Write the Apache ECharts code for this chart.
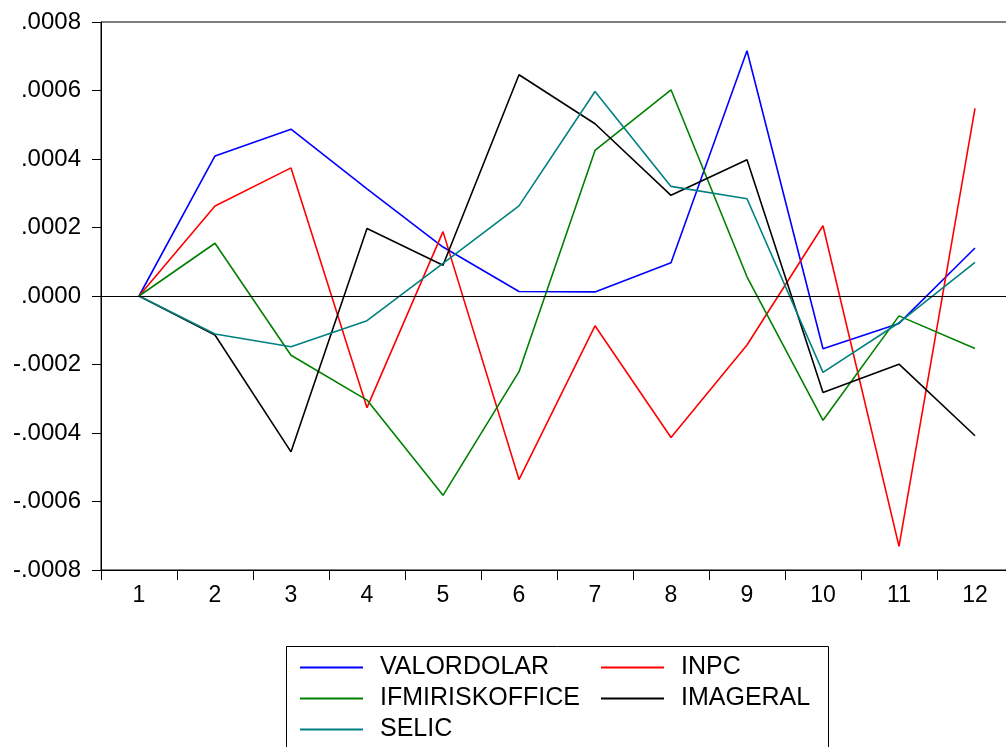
<!DOCTYPE html>
<html>
<head>
<meta charset="utf-8">
<script src="https://cdn.jsdelivr.net/npm/echarts@6/dist/echarts.min.js"></script>
<style>
  html, body { margin: 0; padding: 0; background: #fff; overflow: hidden; width: 1006px; height: 747px; }
  /* the plot frame runs a little past the right edge of the window */
  #chart { width: 1024px; height: 747px; }
</style>
</head>
<body>
<div id="chart"></div>
<script>
// Periods on the horizontal axis
const categories = ['1', '2', '3', '4', '5', '6', '7', '8', '9', '10', '11', '12'];

// Responses of each variable per period
const valordolar     = [0, 0.000409, 0.000487, 0.000313, 0.000143, 0.000013, 0.000012, 0.000097, 0.000716, -0.000154, -0.000080, 0.000140];
const inpc           = [0, 0.000263, 0.000374, -0.000326, 0.000188, -0.000536, -0.000087, -0.000413, -0.000143, 0.000205, -0.000731, 0.000548];
const ifmiriskoffice = [0, 0.000154, -0.000173, -0.000304, -0.000582, -0.000221, 0.000425, 0.000602, 0.000056, -0.000363, -0.000058, -0.000153];
const imageral       = [0, -0.000114, -0.000455, 0.000197, 0.000090, 0.000646, 0.000503, 0.000294, 0.000398, -0.000282, -0.000199, -0.000408];
const selic          = [0, -0.000111, -0.000148, -0.000072, 0.000095, 0.000263, 0.000597, 0.000320, 0.000284, -0.000223, -0.000078, 0.000098];

// Value axis ticks and their printed labels
const yTicks      = [-0.0008, -0.0006, -0.0004, -0.0002, 0, 0.0002, 0.0004, 0.0006, 0.0008];
const yTickLabels = ['-.0008', '-.0006', '-.0004', '-.0002', '.0000', '.0002', '.0004', '.0006', '.0008'];

const seriesDefs = [
  { name: 'VALORDOLAR',     data: valordolar,     color: '#0000ff' },
  { name: 'INPC',           data: inpc,           color: '#ff0000' },
  { name: 'IFMIRISKOFFICE', data: ifmiriskoffice, color: '#008000' },
  { name: 'IMAGERAL',       data: imageral,       color: '#000000' },
  { name: 'SELIC',          data: selic,          color: '#008080' }
];

const FONT = '"Liberation Sans", Arial, Helvetica, sans-serif';

const chart = echarts.init(document.getElementById('chart'), null, { renderer: 'canvas' });

const series = seriesDefs.map((s, i) => {
  const item = {
    name: s.name,
    type: 'line',
    data: s.data,
    symbol: 'none',
    showSymbol: false,
    animation: false,
    lineStyle: { color: s.color, width: 1.6 },
    itemStyle: { color: s.color }
  };
  if (i === 0) {
    // horizontal reference line at zero
    item.markLine = {
      silent: true,
      symbol: ['none', 'none'],
      label: { show: false },
      lineStyle: { color: '#000', width: 1, type: 'solid' },
      data: [{ yAxis: 0 }],
      animation: false
    };
  }
  return item;
});

const legendCommon = {
  orient: 'vertical',
  top: 654,
  padding: 0,
  icon: 'rect',
  itemWidth: 63,
  itemHeight: 2,
  itemGap: 4,
  textStyle: { fontFamily: FONT, fontSize: 25, color: '#000', lineHeight: 27, padding: [0, 0, 0, 12] },
  selectedMode: false
};

chart.setOption({
  animation: false,
  backgroundColor: '#fff',
  grid: {
    left: 101,
    top: 22,
    width: 912,
    height: 548,
    show: true,
    borderColor: '#000',
    borderWidth: 1,
    containLabel: false
  },
  xAxis: {
    type: 'category',
    data: categories,
    boundaryGap: true,
    axisLine: { show: true, onZero: false, lineStyle: { color: '#000', width: 1 } },
    axisTick: { show: true, inside: false, length: 10, interval: 0, lineStyle: { color: '#000' } },
    axisLabel: { fontFamily: FONT, fontSize: 23, color: '#000', margin: 14, interval: 0 },
    splitLine: { show: false }
  },
  yAxis: {
    type: 'value',
    min: -0.0008,
    max: 0.0008,
    interval: 0.0002,
    axisLine: { show: true, lineStyle: { color: '#000', width: 1 } },
    axisTick: { show: true, inside: false, length: 9, lineStyle: { color: '#000' } },
    axisLabel: {
      fontFamily: FONT, fontSize: 24, color: '#000', margin: 20,
      formatter: function (v) {
        let best = 0;
        for (let i = 1; i < yTicks.length; i++) {
          if (Math.abs(yTicks[i] - v) < Math.abs(yTicks[best] - v)) best = i;
        }
        return yTickLabels[best];
      }
    },
    splitLine: { show: false }
  },
  legend: [
    Object.assign({}, legendCommon, { left: 300, data: ['VALORDOLAR', 'IFMIRISKOFFICE', 'SELIC'] }),
    Object.assign({}, legendCommon, { left: 601, data: ['INPC', 'IMAGERAL'] })
  ],
  graphic: [
    {
      type: 'rect',
      silent: true,
      shape: { x: 286.5, y: 646.5, width: 542, height: 130 },
      style: { fill: 'none', stroke: '#000', lineWidth: 1 }
    }
  ],
  series: series
});
</script>
</body>
</html>
